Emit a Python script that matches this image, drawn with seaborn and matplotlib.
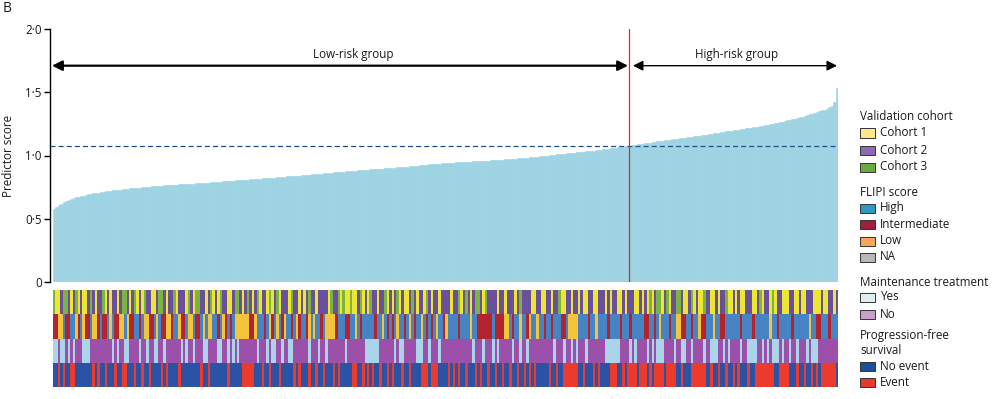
import numpy as np
import pandas as pd
import matplotlib
matplotlib.use("Agg")
import matplotlib.pyplot as plt
import seaborn as sns
from matplotlib.colors import ListedColormap
from matplotlib.patches import Rectangle

# ---------------- data ----------------
scores = [
    0.580, 0.595, 0.610, 0.620, 0.630, 0.640, 0.648, 0.655, 0.662, 0.668,
    0.673, 0.678, 0.683, 0.688, 0.692, 0.696, 0.700, 0.703, 0.706, 0.710,
    0.713, 0.716, 0.719, 0.722, 0.724, 0.727, 0.729, 0.731, 0.734, 0.736,
    0.738, 0.740, 0.742, 0.744, 0.746, 0.747, 0.749, 0.750, 0.752, 0.754,
    0.755, 0.757, 0.758, 0.760, 0.761, 0.763, 0.764, 0.765, 0.767, 0.768,
    0.769, 0.771, 0.772, 0.773, 0.774, 0.775, 0.777, 0.778, 0.779, 0.780,
    0.782, 0.783, 0.785, 0.786, 0.788, 0.789, 0.791, 0.792, 0.794, 0.795,
    0.797, 0.798, 0.800, 0.801, 0.803, 0.804, 0.806, 0.807, 0.808, 0.810,
    0.811, 0.813, 0.814, 0.816, 0.817, 0.819, 0.820, 0.822, 0.823, 0.825,
    0.826, 0.828, 0.829, 0.831, 0.832, 0.834, 0.835, 0.837, 0.838, 0.840,
    0.841, 0.843, 0.845, 0.847, 0.849, 0.850, 0.852, 0.854, 0.856, 0.857,
    0.859, 0.861, 0.863, 0.864, 0.866, 0.868, 0.870, 0.871, 0.873, 0.875,
    0.876, 0.878, 0.879, 0.881, 0.882, 0.884, 0.885, 0.887, 0.888, 0.890,
    0.891, 0.893, 0.894, 0.896, 0.897, 0.899, 0.900, 0.902, 0.903, 0.905,
    0.906, 0.908, 0.910, 0.912, 0.913, 0.915, 0.917, 0.919, 0.920, 0.922,
    0.924, 0.926, 0.927, 0.929, 0.931, 0.932, 0.934, 0.936, 0.937, 0.939,
    0.940, 0.941, 0.943, 0.944, 0.945, 0.946, 0.947, 0.948, 0.950, 0.951,
    0.952, 0.953, 0.954, 0.955, 0.956, 0.958, 0.959, 0.960, 0.961, 0.962,
    0.963, 0.964, 0.966, 0.967, 0.969, 0.970, 0.972, 0.974, 0.975, 0.977,
    0.979, 0.980, 0.982, 0.984, 0.986, 0.988, 0.990, 0.992, 0.994, 0.996,
    0.998, 1.000, 1.002, 1.004, 1.006, 1.008, 1.010, 1.012, 1.014, 1.016,
    1.018, 1.020, 1.022, 1.024, 1.026, 1.028, 1.030, 1.032, 1.034, 1.036,
    1.038, 1.040, 1.042, 1.045, 1.048, 1.051, 1.054, 1.057, 1.060, 1.063,
    1.066, 1.068, 1.070, 1.072, 1.074, 1.078, 1.081, 1.084, 1.087, 1.090,
    1.093, 1.096, 1.099, 1.102, 1.105, 1.108, 1.111, 1.114, 1.116, 1.119,
    1.122, 1.124, 1.127, 1.130, 1.132, 1.135, 1.138, 1.140, 1.143, 1.146,
    1.149, 1.151, 1.154, 1.157, 1.160, 1.163, 1.166, 1.169, 1.172, 1.175,
    1.178, 1.181, 1.184, 1.187, 1.190, 1.193, 1.196, 1.199, 1.202, 1.205,
    1.208, 1.211, 1.214, 1.217, 1.220, 1.223, 1.226, 1.229, 1.232, 1.235,
    1.238, 1.242, 1.246, 1.250, 1.254, 1.258, 1.262, 1.267, 1.272, 1.277,
    1.282, 1.287, 1.292, 1.297, 1.302, 1.308, 1.314, 1.320, 1.326, 1.332,
    1.338, 1.344, 1.350, 1.356, 1.362, 1.370, 1.380, 1.392, 1.420, 1.530,
]

# Validation cohort: Y = cohort 1, P = cohort 2, G = cohort 3
cohort_track = "".join([
    "GYYPGGPYPG", "YPYYPGPYPP", "GYPYPPYPGG", "PYPGYPYGPP", "YYPGGPYPPG", "YPPPYGPYGG", "PPYPGYPYGP", "PYYPGGPYPG",
    "PYPGYPPYGY", "PGYPPPYGPP", "YPYPGPPYPP", "PPYGPPGYGY", "YGYYPGYPYG", "PPYPPGYPYP", "GYPYYPGPYP", "PYGPYPPYPP",
    "PPYPPGYPGP", "YPGGPYGPPP", "PYPPYPPPYP", "GPPPPYYPPY", "YPPYPPGYYP", "PYPPYPYYPP", "YYPPPYPYPP", "YYPYPPPYYP",
    "YPYGYPGGYP", "GYPPGGPYYP", "GYPYYGPPYY", "PYPPGYYPYP", "YYPPPYYPGY", "PPYGYPPYYY", "PPYYPYYPPP", "YYYPYYPPYP",
])
# FLIPI score: H = high, I = intermediate, L = low, N = NA
flipi_track = "".join([
    "IILLHIIHHL", "IHLIIHLLIH", "IIHLHIILLH", "LIIHHIHLLI", "IHLHIILLIH", "HLIIHLLHII", "HLHLLHHIHL", "IHIHLLLLLL",
    "IILHHHIHLI", "HLHILHHIHL", "IHHILHLHHI", "HLLLLIHHHI", "IHHLHIHHHH", "HIHHLHIHIH", "LHHIHLHIHH", "LHIHIHLHHI",
    "LHHHHIHHHH", "LHHIIIIIIH", "IIIILLHIHH", "LHHILHHLHH", "IHHIHHHIIH", "LLLLHHHHIH", "HLHHHHIHHH", "HIHHHIHHHH",
    "HIIHHIHLHH", "HIHHLLIIHH", "IHHLIIHHHL", "HHIIHHHHHH", "IHHHHIHHHH", "HHLHHIHHHH", "HIHHHHHHLH", "HIIHHHIHHH",
])
# Maintenance treatment: Y = yes, N = no
maint_track = "".join([
    "YYNYYNYNYN", "NNYYYNNNNN", "NNNNYNYNNY", "YNNNNYNNYN", "NYYNNYNNNN", "NNYNYNNYNN", "NYYNNNNYYN", "NYNYNYNNNN",
    "NNNYNNNYNY", "YNNYNNYYNN", "NNNNYNNNYN", "NYNNNNNNNY", "NNNNNNNYYY", "YYYNNNNNNY", "NYYNNNNNYY", "YNNYNNNYNN",
    "NNNNNNNNNN", "NYNNNYNNNY", "NYNNNNNYNN", "YNNYNNNNNN", "NNNNYNNNYN", "NYNYNNNYNN", "NNNNNYYYYY", "YNNNNYNYNN",
    "NNYNYNYYYN", "NNNYNNYYNN", "YNNNNYNNYY", "YNNYNYNNNN", "YNNYYYYNNY", "NYNYYYNYNN", "YNNYNNNYNY", "YYNNNNNNNN",
])
# Progression-free survival: N = no event, E = event
pfs_track = "".join([
    "NNENENNEEN", "NNNNNNENEN", "NENNNENNEE", "NNNENNENNE", "NNNNENENNN", "NENNNNNNNN", "ENNENNNNNN", "NENNNNNEEE",
    "EENNNENNEN", "NNENNNNNEN", "ENNNENNENN", "ENNNENENNN", "NNEENNENEN", "ENNENNENEN", "NNENNENNNN", "EEENEEENNN",
    "NENENENNEN", "NNENENNENN", "ENNENNENNE", "NNENENENNN", "NNENNENNEE", "EEEENNENNN", "ENENNNNEEE", "NNENEEEENE",
    "EENENEEEEN", "EEEENNENNN", "EEEEEENNEN", "NENNENNENE", "NNNENNEEEE", "EEEENNEEEE", "NNNENNENNE", "NENEEEEEEN",
])

cutoff_score = 1.076
n_low_risk = 235
ytick_values = [0, 0.5, 1.0, 1.5, 2.0]
ytick_labels = ["0", "0·5", "1·0", "1·5", "2·0"]

legend_groups = [
    ("Validation cohort", [("Cohort 1", "#fde98c"), ("Cohort 2", "#8a6bb3"), ("Cohort 3", "#6aab3c")]),
    ("FLIPI score", [("High", "#2c9ac2"), ("Intermediate", "#a51d3d"), ("Low", "#f8a65a"), ("NA", "#b8b8bc")]),
    ("Maintenance treatment", [("Yes", "#dff0f5"), ("No", "#c9a0c9")]),
    ("Progression-free\nsurvival", [("No event", "#1d4f9a"), ("Event", "#e63a2e")]),
]

# ---------------- styling ----------------
bar_color = "#9dd3e3"
track_palettes = [
    {"Y": "#ede632", "P": "#6a4f9d", "G": "#7cb443"},
    {"H": "#4784c6", "I": "#b2252e", "L": "#f4c53a", "N": "#b0b0b0"},
    {"Y": "#a9d4ea", "N": "#9d50aa"},
    {"N": "#2b53a5", "E": "#ec3a2c"},
]

sns.set_theme(style="ticks")
plt.rcParams["font.family"] = ["Open Sans", "DejaVu Sans"]
FS = 8.4
TXT = "#1a1a1a"

W, H = 996, 399
fig = plt.figure(figsize=(W / 100, H / 100), dpi=100)


def fx(px):
    return px / W


def fy(py):
    return 1 - py / H


N = len(scores)
x_left, x_right = -1.72, N - 0.5

# main bar axes
ax = fig.add_axes([fx(50), fy(282), fx(838) - fx(50), fy(29) - fy(282)])
df = pd.DataFrame({"patient": np.arange(N), "score": scores})
sns.barplot(data=df, x="patient", y="score", native_scale=True, color=bar_color,
            saturation=1, width=1.0, linewidth=0.4, edgecolor=bar_color,
            errorbar=None, ax=ax)
ax.set_xlim(x_left, x_right)
ax.set_ylim(0, 2.0)
ax.set_xticks([])
ax.set_xlabel("")
ax.set_yticks(ytick_values)
ax.set_yticklabels(ytick_labels)
ax.tick_params(axis="y", left=True, direction="out", length=4, width=1.0,
               color="black", labelsize=FS, labelcolor=TXT, pad=2)
sns.despine(ax=ax, bottom=True)
ax.spines["left"].set_color("black")
ax.spines["left"].set_linewidth(1.0)
ax.set_ylabel("Predictor score", fontsize=FS, color=TXT, va="center")
ax.yaxis.set_label_coords(-41 / 788, 0.5)

# cutoff lines
ax.axhline(cutoff_score, color="#1f4e8c", lw=0.9, ls=(0, (4, 2.5)), zorder=3)
ax.axvline(n_low_risk - 0.5, color="#c0392b", lw=0.9, zorder=4)

# group arrows
arrow_y = 1.71
ax.annotate("", xy=(-0.9, arrow_y), xytext=(n_low_risk - 1.1, arrow_y),
            arrowprops=dict(arrowstyle="<|-|>,head_length=0.6,head_width=0.3",
                            lw=1.6, color="black", shrinkA=0, shrinkB=0, mutation_scale=10))
ax.annotate("", xy=(n_low_risk + 0.9, arrow_y), xytext=(N - 0.9, arrow_y),
            arrowprops=dict(arrowstyle="<|-|>,head_length=0.6,head_width=0.3",
                            lw=1.0, color="black", shrinkA=0, shrinkB=0, mutation_scale=10))
ax.text((n_low_risk - 1) / 2 + 5, 1.795, "Low-risk group", ha="center", va="center",
        fontsize=FS, color=TXT)
ax.text((n_low_risk + N) / 2 + 0.5, 1.795, "High-risk group", ha="center", va="center",
        fontsize=FS, color=TXT)

# annotation tracks
tracks = [cohort_track, flipi_track, maint_track, pfs_track]
all_colors = []
mat = np.zeros((len(tracks), N))
for r, (trk, pal) in enumerate(zip(tracks, track_palettes)):
    keys = list(pal.keys())
    base = len(all_colors)
    all_colors.extend(pal[k] for k in keys)
    for i, ch in enumerate(trk[:N]):
        mat[r, i] = base + keys.index(ch)

ax2 = fig.add_axes([fx(50), fy(387), fx(838) - fx(50), fy(290) - fy(387)])
sns.heatmap(mat, cmap=ListedColormap(all_colors), vmin=-0.5, vmax=len(all_colors) - 0.5,
            cbar=False, xticklabels=False, yticklabels=False, ax=ax2)
ax2.set_xlim(x_left + 0.5, x_right + 0.5)
ax2.set_ylim(len(tracks), 0)
for s in ax2.spines.values():
    s.set_visible(False)

# panel letter
fig.text(fx(3), fy(9), "B", fontsize=10, color=TXT, ha="left", va="center")

# legend
legend_layout = [
    (116, [133, 150, 167]),
    (192, [208, 224, 241, 257]),
    (282, [297, 314]),
    (343, [366, 382]),
]
for (title, items), (ty, iys) in zip(legend_groups, legend_layout):
    fig.text(fx(860), fy(ty), title, fontsize=FS, color=TXT, ha="left", va="center",
             linespacing=1.15)
    for (lab, col), iy in zip(items, iys):
        fig.add_artist(Rectangle((fx(860), fy(iy + 4.5)), fx(15), 9 / H,
                                 transform=fig.transFigure, facecolor=col,
                                 edgecolor="#333333", linewidth=0.7))
        fig.text(fx(880), fy(iy), lab, fontsize=FS, color=TXT, ha="left", va="center")

fig.savefig("out.png", dpi=100)
